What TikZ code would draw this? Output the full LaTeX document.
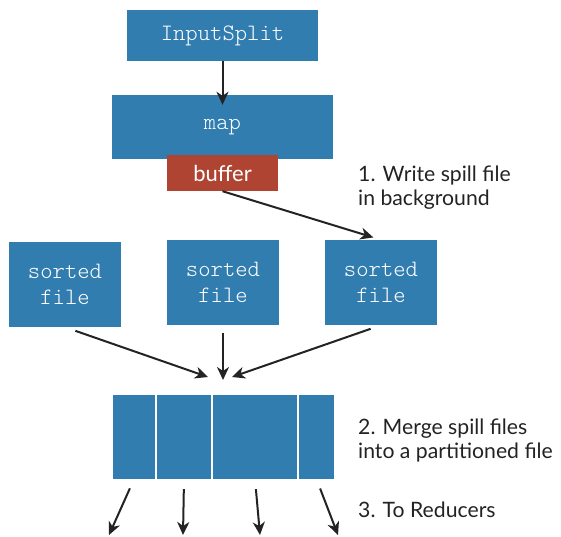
\documentclass[tikz,border=0pt]{standalone}
\usepackage{fontspec}
\setmainfont{Lato}
\setmonofont{Latin Modern Mono Light}
\usetikzlibrary{arrows.meta}
\definecolor{boxblue}{RGB}{49,125,176}
\definecolor{bufred}{RGB}{176,68,50}
\definecolor{txtgray}{RGB}{35,35,35}
\begin{document}
\begin{tikzpicture}[x=1pt,y=-1pt,
  blk/.style={fill=boxblue, text=white, inner sep=0pt, align=center,
    font=\fontsize{23.5}{26}\selectfont\ttfamily},
  part/.style={fill=boxblue, inner sep=0pt, minimum height=84pt},
  lbl/.style={anchor=north west, align=left, inner sep=0pt, text=txtgray,
    font=\fontsize{21.2}{24}\selectfont},
  arr/.style={-{Stealth[length=13pt,width=12pt,inset=4pt]}, line width=2pt, txtgray}]
\useasboundingbox (0,0) rectangle (561,536);
\node[blk, minimum width=191pt, minimum height=51pt] (split) at (222.5,35.5){InputSplit};
\node[blk, minimum width=221pt, minimum height=64pt] (map) at (222.5,127){map};
\node[blk, fill=bufred, minimum width=111pt, minimum height=36pt,
  font=\fontsize{22}{24}\selectfont] (buffer) at (222.5,173){buffer};
\draw[arr, shorten >=-10pt] (split) -- (map);
% sorted spill files
\node[blk, minimum width=112pt, minimum height=85pt] (sf1) at (65,284.5){sorted\\file};
\node[blk, minimum width=112pt, minimum height=85pt] (sf2) at (223,282.5){sorted\\file};
\node[blk, minimum width=112pt, minimum height=85pt] (sf3) at (381,282.5){sorted\\file};
\draw[arr, shorten >=8pt] (buffer.south) -- (sf3.north);
\node[lbl] (l1) at (358,166){1. Write spill file\\in background};
% merge
\coordinate (mg1) at (208,377);
\coordinate (mg2) at (223,380);
\coordinate (mg3) at (232,377);
\draw[arr, shorten <=11pt] (sf1.south) -- (mg1);
\draw[arr, shorten <=8pt] (sf2.south) -- (mg2);
\draw[arr, shorten <=11pt] (sf3.south) -- (mg3);
\node[part, minimum width=42pt] (p1) at (134,437){};
\node[part, minimum width=54pt] (p2) at (184,437){};
\node[part, minimum width=84pt] (p3) at (255,437){};
\node[part, minimum width=35pt] (p4) at (316.5,437){};
\node[lbl] (l2) at (358,419){2. Merge spill files\\into a partitioned file};
% to reducers
\coordinate (r1) at (109,535);
\coordinate (r2) at (183,535);
\coordinate (r3) at (260,535);
\coordinate (r4) at (338,535);
\draw[arr, shorten <=10pt] (p1.south) -- (r1);
\draw[arr, shorten <=10pt] (p2.south) -- (r2);
\draw[arr, shorten <=10pt] (p3.south) -- (r3);
\draw[arr, shorten <=10pt] (p4.south) -- (r4);
\node[lbl] (l3) at (358,502){3. To Reducers};
\end{tikzpicture}
\end{document}
